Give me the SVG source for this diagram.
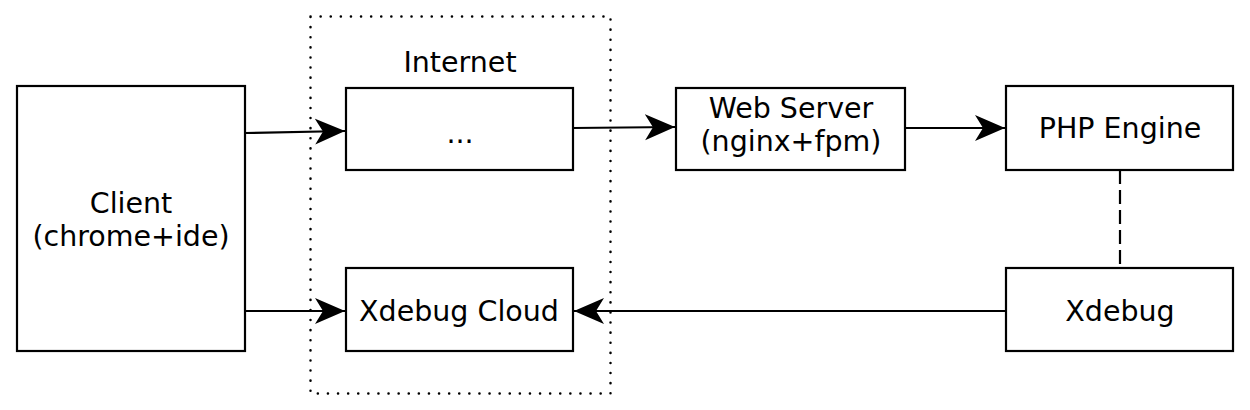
<svg xmlns="http://www.w3.org/2000/svg" width="1250" height="410" viewBox="0 0 1250 410">
<style>
.box{fill:#fff;stroke:#000;stroke-width:2.2}
.t{font-family:"DejaVu Sans",sans-serif;font-size:28.5px;fill:#000;text-anchor:middle}
.c{fill:none;stroke:#000;stroke-width:2.2}
</style>
<defs>
<marker id="ah" markerUnits="userSpaceOnUse" markerWidth="32" markerHeight="28" viewBox="0 0 32 28" refX="30" refY="14" orient="auto">
<path d="M0,1 L30,14 L0,27 L8,14 Z" fill="#000"/>
</marker>
</defs>
<rect x="310.5" y="16.5" width="300" height="377" fill="none" stroke="#000" stroke-width="2.5" stroke-dasharray="0.1 10" stroke-linecap="round"/>
<g id="client"><rect class="box" x="17" y="86" width="228" height="265"/><text class="t" x="131" y="213">Client</text><text class="t" x="131" y="246">(chrome+ide)</text></g>
<g id="internet"><text class="t" x="460" y="72">Internet</text><rect class="box" x="346" y="88" width="227" height="82"/><text class="t" x="460" y="143">...</text></g>
<g id="cloud"><rect class="box" x="346" y="268" width="227" height="83"/><text class="t" x="459" y="321">Xdebug Cloud</text></g>
<g id="web"><rect class="box" x="676" y="88" width="229" height="82"/><text class="t" x="791" y="118">Web Server</text><text class="t" x="791" y="151">(nginx+fpm)</text></g>
<g id="php"><rect class="box" x="1006" y="86" width="227" height="84"/><text class="t" x="1120" y="138">PHP Engine</text></g>
<g id="xdebug"><rect class="box" x="1006" y="268" width="227" height="83"/><text class="t" x="1120" y="321">Xdebug</text></g>
<g id="connectors">
<line class="c" x1="245" y1="133" x2="345" y2="131" marker-end="url(#ah)"/>
<line class="c" x1="573" y1="128" x2="675" y2="127" marker-end="url(#ah)"/>
<line class="c" x1="905" y1="128" x2="1005" y2="128" marker-end="url(#ah)"/>
<line class="c" x1="245" y1="311" x2="345" y2="311" marker-end="url(#ah)"/>
<line class="c" x1="1006" y1="311" x2="574" y2="311" marker-end="url(#ah)"/>
<line class="c" x1="1120" y1="170" x2="1120" y2="268" stroke-dasharray="14 6"/>
</g>
</svg>
